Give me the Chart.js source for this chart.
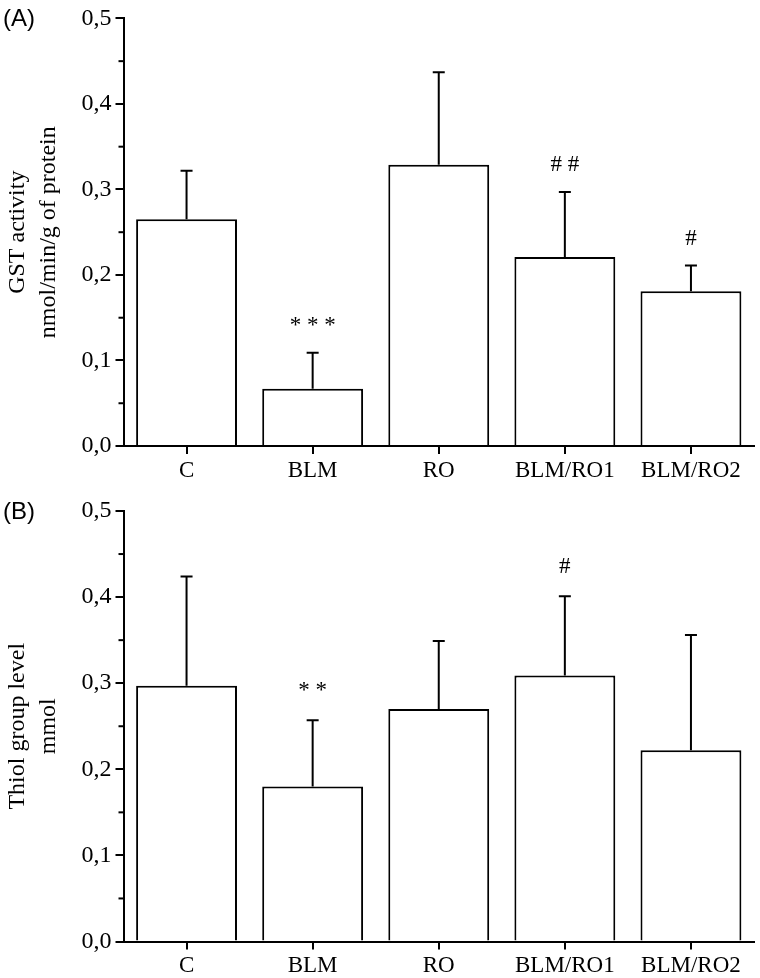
<!DOCTYPE html>
<html>
<head>
<meta charset="utf-8">
<script src="https://cdn.jsdelivr.net/npm/chart.js@4.4.1/dist/chart.umd.min.js"></script>
<style>
  body { margin: 0; background: #fff; }
  #wrap { position: relative; width: 760px; height: 978px; }
  canvas { position: absolute; left: 0; }
  .panel { position: absolute; left: 3px; font: 24px "Liberation Sans", Arial, sans-serif; color: #000; }
</style>
</head>
<body>
<div id="wrap">
  <canvas id="chartA" width="760" height="490" style="top:0"></canvas>
  <canvas id="chartB" width="760" height="488" style="top:490px"></canvas>
  <div class="panel" style="top:4px">(A)</div>
  <div class="panel" style="top:497px">(B)</div>
</div>
<script>
const groups = ['C', 'BLM', 'RO', 'BLM/RO1', 'BLM/RO2'];

// (A) GST activity
const gstMean = [0.265, 0.067, 0.329, 0.221, 0.181];
const gstErr = [0.057, 0.042, 0.108, 0.076, 0.030];
const gstMarks = ['', '* * *', '', '# #', '#'];

// (B) thiol groups
const thiolMean = [0.297, 0.180, 0.270, 0.309, 0.222];
const thiolErr = [0.127, 0.077, 0.079, 0.092, 0.134];
const thiolMarks = ['', '* *', '', '#', ''];

const yTicks = [0, 0.1, 0.2, 0.3, 0.4, 0.5];
const yMinorTicks = [0.05, 0.15, 0.25, 0.35, 0.45];

const serif = '"Liberation Serif", "Times New Roman", serif';

// error bars, significance marks and minor ticks
const extras = {
  id: 'extras',
  afterDatasetsDraw(chart, args, opts) {
    const ctx = chart.ctx;
    const x = chart.scales.x, y = chart.scales.y;
    ctx.save();
    ctx.strokeStyle = '#000';
    ctx.fillStyle = '#000';
    ctx.lineWidth = 2;
    opts.means.forEach((m, i) => {
      const px = x.getPixelForValue(i);
      const y0 = y.getPixelForValue(m);
      const y1 = y.getPixelForValue(m + opts.errs[i]);
      ctx.beginPath();
      ctx.moveTo(px, y0);
      ctx.lineTo(px, y1);
      ctx.moveTo(px - 6, y1);
      ctx.lineTo(px + 6, y1);
      ctx.stroke();
      if (opts.marks[i]) {
        ctx.font = '23px ' + serif;
        ctx.textAlign = 'center';
        ctx.textBaseline = 'middle';
        ctx.fillText(opts.marks[i], px, y1 - opts.markGap);
      }
    });
    const left = chart.chartArea.left;
    yMinorTicks.forEach(v => {
      const py = y.getPixelForValue(v);
      ctx.beginPath();
      ctx.moveTo(left - 5, py);
      ctx.lineTo(left, py);
      ctx.stroke();
    });
    ctx.restore();
  }
};

function makeChart(id, means, errs, marks, title, padTop, xHeight, markGap) {
  return new Chart(document.getElementById(id), {
    type: 'bar',
    data: {
      labels: groups,
      datasets: [{
        data: means,
        backgroundColor: '#fff',
        borderColor: '#000',
        borderWidth: 2,
        barPercentage: 0.8,
        categoryPercentage: 1.0
      }]
    },
    options: {
      responsive: false,
      animation: false,
      events: [],
      layout: { padding: { top: padTop, right: 6, bottom: 0, left: 0 } },
      plugins: {
        legend: { display: false },
        tooltip: { enabled: false },
        extras: { means: means, errs: errs, marks: marks, markGap: markGap }
      },
      scales: {
        x: {
          afterFit: s => { s.height = xHeight; },
          grid: { offset: false, drawOnChartArea: false, tickLength: 8, color: '#000', lineWidth: 2 },
          border: { color: '#000', width: 2 },
          ticks: { color: '#000', padding: 3, font: { family: serif, size: 23 } }
        },
        y: {
          min: 0,
          max: 0.5,
          afterFit: s => { s.width = 123.5; },
          afterBuildTicks: s => { s.ticks = yTicks.map(v => ({ value: v })); },
          grid: { drawOnChartArea: false, tickLength: 8, color: '#000', lineWidth: 2 },
          border: { color: '#000', width: 2 },
          ticks: {
            color: '#000',
            padding: 4,
            font: { family: serif, size: 24 },
            callback: v => v.toFixed(1).replace('.', ',')
          },
          title: {
            display: true,
            text: title,
            color: '#000',
            font: { family: serif, size: 24, lineHeight: 1.3 },
            padding: { top: 2, bottom: 0 }
          }
        }
      }
    },
    plugins: [extras]
  });
}

makeChart('chartA', gstMean, gstErr, gstMarks, ['GST activity', 'nmol/min/g of protein'], 15, 44, 27);
makeChart('chartB', thiolMean, thiolErr, thiolMarks, ['Thiol group level', 'mmol'], 21, 36.5, 29);
</script>
</body>
</html>
